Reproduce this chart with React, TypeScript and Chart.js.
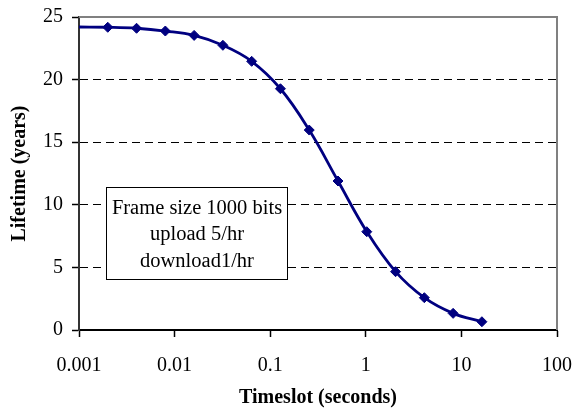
import React, { useEffect, useRef } from "react";
import { Chart, registerables } from "chart.js";

Chart.register(...registerables);

const timeslots = [0.001, 0.002, 0.004, 0.008, 0.016, 0.032, 0.064, 0.128, 0.256, 0.512, 1.024, 2.048, 4.096, 8.192, 16.384];
const lifetimes = [24.2, 24.18, 24.1, 23.88, 23.53, 22.74, 21.46, 19.27, 15.97, 11.9, 7.85, 4.66, 2.58, 1.33, 0.66];
const xTickValues = [0.001, 0.01, 0.1, 1, 10, 100];
const annotationLines = ["Frame size 1000 bits", "upload 5/hr", "download1/hr"];

const FONT = "'Liberation Serif', 'Times New Roman', serif";

export default function App() {
  const ref = useRef<HTMLCanvasElement | null>(null);

  useEffect(() => {
    document.body.style.margin = "0";
    const canvas = ref.current!;
    const points = timeslots.map((x, i) => ({ x, y: lifetimes[i] }));

    const framePlugin = {
      id: "framebox",
      afterDraw(chart: any) {
        const { ctx, chartArea: ca } = chart;
        ctx.save();
        ctx.strokeStyle = "#808080";
        ctx.lineWidth = 2;
        ctx.beginPath();
        ctx.moveTo(ca.left, ca.top);
        ctx.lineTo(ca.right, ca.top);
        ctx.lineTo(ca.right, ca.bottom);
        ctx.stroke();
        // annotation box
        const bx = Math.round(ca.left + 27) + 0.5;
        const by = Math.round(ca.top + 170) + 0.5;
        const bw = 181;
        const bh = 92;
        ctx.fillStyle = "#ffffff";
        ctx.fillRect(bx, by, bw, bh);
        ctx.strokeStyle = "#000000";
        ctx.lineWidth = 1;
        ctx.strokeRect(bx, by, bw, bh);
        ctx.fillStyle = "#000000";
        ctx.font = `20.5px ${FONT}`;
        ctx.textAlign = "center";
        ctx.textBaseline = "alphabetic";
        const cx = bx + bw / 2;
        annotationLines.forEach((t, i) => {
          ctx.fillText(t, cx, by + 26 + i * 26.5);
        });
        ctx.restore();
      },
    };

    const chart = new Chart(canvas, {
      type: "line",
      data: {
        datasets: [
          {
            data: points,
            borderColor: "#000080",
            backgroundColor: "#000080",
            borderWidth: 2.8,
            tension: 0.4,
            pointStyle: "rectRot",
            pointRadius: (c: any) => (c.dataIndex === 0 ? 0 : 5),
            pointBorderWidth: 1,
            pointBorderColor: "#000080",
            pointBackgroundColor: "#000080",
            clip: false as any,
          },
        ],
      },
      options: {
        responsive: false,
        animation: false,
        events: [],
        layout: { padding: { top: 17, right: 19, left: 0, bottom: 0 } },
        plugins: {
          legend: { display: false },
          tooltip: { enabled: false },
        },
        scales: {
          x: {
            type: "logarithmic",
            min: 0.001,
            max: 100,
            afterBuildTicks: (scale: any) => {
              scale.ticks = xTickValues.map((v) => ({ value: v, major: true }));
            },
            afterFit: (scale: any) => {
              scale.height = 83;
              scale.paddingLeft = 0;
              scale.paddingRight = 0;
            },
            ticks: {
              color: "#000",
              font: { family: FONT, size: 20 },
              padding: 17,
              maxRotation: 0,
              autoSkip: false,
              callback: (v: any) => String(v),
            },
            grid: {
              drawOnChartArea: false,
              drawTicks: true,
              tickLength: 7,
              color: "#000",
              tickColor: "#000",
              tickWidth: 1.5,
            },
            border: { display: true, color: "#000", width: 2 },
            title: {
              display: true,
              text: "Timeslot (seconds)",
              color: "#000",
              font: { family: FONT, size: 20, weight: "bold" },
              padding: { top: 0, bottom: 3 },
            },
          },
          y: {
            type: "linear",
            min: 0,
            max: 25,
            afterFit: (scale: any) => {
              scale.width = 79;
              scale.paddingTop = 0;
              scale.paddingBottom = 0;
            },
            ticks: {
              stepSize: 5,
              color: "#000",
              font: { family: FONT, size: 20 },
              padding: 9,
            },
            grid: {
              drawTicks: true,
              tickLength: 7,
              color: (c: any) =>
                c.tick && (c.tick.value === 0 || c.tick.value === 25) ? "rgba(0,0,0,0)" : "#000",
              tickColor: "#000",
              tickWidth: 1.5,
              lineWidth: 1,
            },
            border: { display: true, color: "#333", width: 2, dash: [8, 5] },
            title: {
              display: true,
              text: "Lifetime (years)",
              color: "#000",
              font: { family: FONT, size: 20, weight: "bold" },
              padding: { top: 8, bottom: 0 },
            },
          },
        },
      } as any,
      plugins: [framePlugin],
    });
    return () => chart.destroy();
  }, []);

  return (
    <div style={{ width: 576, height: 413 }}>
      <canvas ref={ref} width={576} height={413} style={{ display: "block" }} />
    </div>
  );
}
